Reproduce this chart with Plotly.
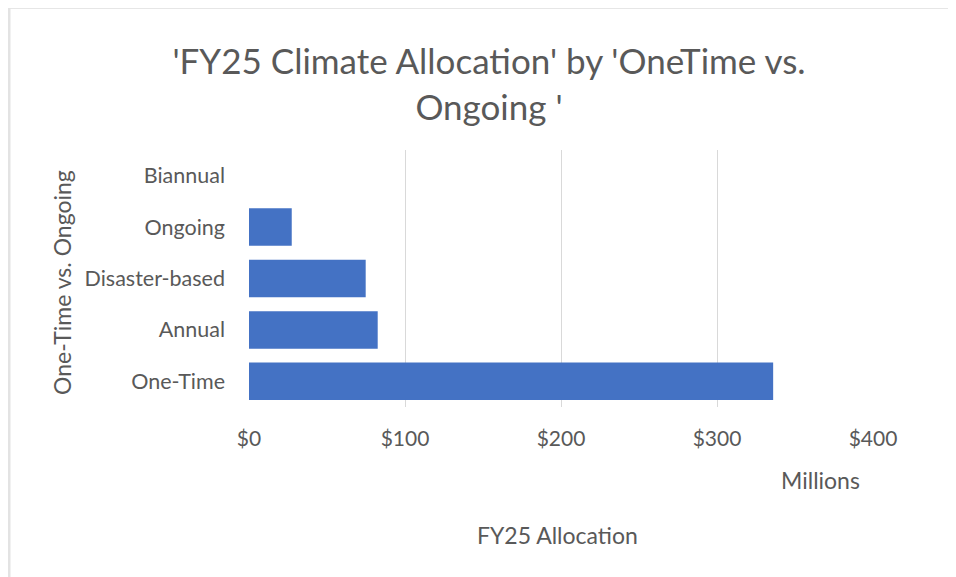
import plotly.graph_objects as go

# --- data ---
categories = ["One-Time", "Annual", "Disaster-based", "Ongoing", "Biannual"]
allocation_millions = [336, 82.5, 74.8, 27.4, 0]
tick_values = [0, 100, 200, 300, 400]
tick_labels = ["$0", "$100", "$200", "$300", "$400"]

GREY = "#595959"
FONT = "Lato"

# page has an 8px body margin, so the figure is drawn 8px in from the corner
W, H = 948, 569
L, T, R, B = 241, 142, 865, 399          # plot area in figure pixels
PW, PH = R - L, B - T


def px(x):
    return (x - L) / PW


def py(y):
    return (B - y) / PH


fig = go.Figure()
fig.add_trace(go.Bar(
    x=allocation_millions,
    y=categories,
    orientation="h",
    marker=dict(color="#4472C4", line=dict(width=0)),
))

fig.update_layout(
    width=W, height=H,
    paper_bgcolor="white", plot_bgcolor="white",
    margin=dict(l=L, r=W - R, t=T, b=H - B),
    bargap=0.27,
    showlegend=False,
    font=dict(family=FONT, color=GREY, size=21),
    title=dict(
        text="'FY25 Climate Allocation' by 'OneTime vs.<br>Ongoing '",
        x=481 / W, xref="container", xanchor="center",
        y=1 - 66 / H, yref="container", yanchor="middle",
        font=dict(family=FONT, size=35, color=GREY),
    ),
)

fig.update_xaxes(
    range=[0, 400], tickvals=tick_values, ticktext=tick_labels,
    showgrid=True, gridcolor="#d9d9d9", gridwidth=1,
    zeroline=False, showline=False, ticks="",
    ticklabelstandoff=17,
    tickfont=dict(family=FONT, size=21, color=GREY),
)
fig.update_yaxes(
    showgrid=False, zeroline=False, showline=False, ticks="",
    ticklabelstandoff=23,
    tickfont=dict(family=FONT, size=21.5, color=GREY),
)

# axis titles and units label
note_font = dict(family=FONT, size=23, color=GREY)
fig.add_annotation(text="FY25 Allocation", xref="paper", yref="paper",
                   x=px(549), y=py(527), xanchor="center", yanchor="middle",
                   showarrow=False, font=note_font)
fig.add_annotation(text="Millions", xref="paper", yref="paper",
                   x=px(812), y=py(472), xanchor="center", yanchor="middle",
                   showarrow=False, font=note_font)
fig.add_annotation(text="One-Time vs. Ongoing", xref="paper", yref="paper",
                   x=px(54), y=py(275), xanchor="center", yanchor="middle",
                   textangle=-90, showarrow=False, font=note_font)

# light chart frame (top and left edges)
fig.add_shape(type="line", xref="paper", yref="paper",
              x0=px(0), x1=px(W), y0=py(0.5), y1=py(0.5),
              line=dict(color="#e6e6e6", width=1))
fig.add_shape(type="line", xref="paper", yref="paper",
              x0=px(1), x1=px(1), y0=py(0), y1=py(H),
              line=dict(color="#e3e3e3", width=3))

fig.write_html("out.html")
